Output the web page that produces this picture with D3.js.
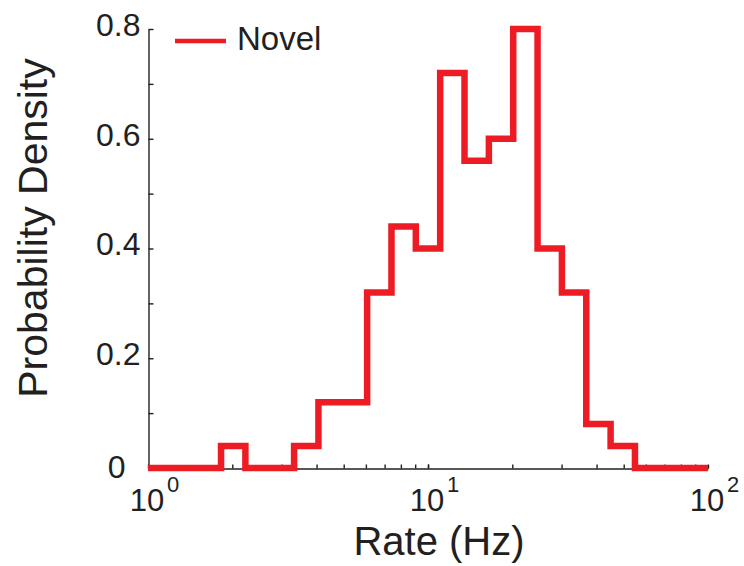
<!DOCTYPE html>
<html>
<head>
<meta charset="utf-8">
<script src="https://cdn.jsdelivr.net/npm/d3@7"></script>
<style>
  body { margin: 0; background: #fff; }
  text { font-family: "Liberation Sans", Arial, sans-serif; fill: #231f20; }
</style>
</head>
<body>
<svg id="chart" width="744" height="566"></svg>
<script>
var width = 744;
var height = 566;

// histogram: 23 log-spaced bins between 10^0 and 10^2
var binCount = 23;
var density = [0, 0, 0, 0.04, 0, 0, 0.04, 0.12, 0.12, 0.32, 0.44, 0.40,
               0.72, 0.56, 0.60, 0.80, 0.40, 0.32, 0.08, 0.04, 0, 0, 0];
var yTicks = [0, 0.1, 0.2, 0.3, 0.4, 0.5, 0.6, 0.7, 0.8];
var yLabels = [0, 0.2, 0.4, 0.6, 0.8];
var xLabels = [1, 10, 100];
var seriesName = "Novel";

var red = "#ed1c24";
var ink = "#231f20";

var x = d3.scaleLog().domain([1, 100]).range([148, 708]);
var y = d3.scaleLinear().domain([0, 0.8]).range([468, 29]);

var svg = d3.select("#chart");

// bin edges in log space
var edges = d3.range(binCount + 1).map(function(k) {
    return Math.pow(10, 2 * k / binCount);
});
var pts = density.map(function(v, i) { return [edges[i], v]; });
pts.push([edges[binCount], 0]);

// axes
var yAxis = d3.axisLeft(y)
    .tickValues(yTicks)
    .tickSize(-5)
    .tickSizeOuter(0)
    .tickPadding(8)
    .tickFormat(function(d) {
        var lab = yLabels.filter(function(v) { return Math.abs(v - d) < 1e-9; });
        return lab.length ? String(+d.toFixed(1)) : "";
    });

var gy = svg.append("g").attr("transform", "translate(148.5,0)").call(yAxis);
gy.selectAll("text")
    .style("font-size", "32px")
    .attr("dy", "0.2em")
    .filter(function(d) { return d === 0; })
    .attr("x", -23)
    .attr("dy", "0.3em");

var minor = [];
[1, 10].forEach(function(dec) {
    for (var m = 1; m <= 10; m++) minor.push(dec * m);
});
var xAxis = d3.axisBottom(x)
    .tickValues(minor)
    .tickSize(-4)
    .tickSizeOuter(0)
    .tickFormat("");
var gx = svg.append("g").attr("transform", "translate(0,468.5)").call(xAxis);

svg.selectAll(".domain").attr("stroke", ink).attr("stroke-width", 1.4);
svg.selectAll(".tick line").attr("stroke", ink).attr("stroke-width", 1.4);

// decade labels 10^n: base centred on the tick, exponent to its upper right
var decades = svg.append("g").selectAll("g")
    .data(xLabels)
    .enter()
    .append("g")
    .attr("transform", function(d) { return "translate(" + (x(d) - 1) + ",0)"; });
decades.append("text")
    .attr("x", 0)
    .attr("y", 511)
    .attr("text-anchor", "middle")
    .style("font-size", "31px")
    .text("10");
decades.append("text")
    .attr("x", 20)
    .attr("y", 492)
    .style("font-size", "22px")
    .text(function(d) { return Math.round(Math.log10(d)); });

// histogram outline
var line = d3.line()
    .x(function(d) { return x(d[0]); })
    .y(function(d) { return y(d[1]); })
    .curve(d3.curveStepAfter);

svg.append("path")
    .datum(pts)
    .attr("d", line)
    .attr("fill", "none")
    .attr("stroke", red)
    .attr("stroke-width", 6.5)
    .attr("stroke-linejoin", "miter");

// legend
svg.append("line")
    .attr("x1", 175).attr("x2", 226)
    .attr("y1", 41).attr("y2", 41)
    .attr("stroke", red).attr("stroke-width", 4.5);
svg.append("text")
    .attr("x", 237).attr("y", 50)
    .style("font-size", "33px")
    .text(seriesName);

// axis titles
svg.append("text")
    .attr("x", 439).attr("y", 555)
    .attr("text-anchor", "middle")
    .style("font-size", "40px")
    .text("Rate (Hz)");
svg.append("text")
    .attr("transform", "translate(47,228) rotate(-90)")
    .attr("text-anchor", "middle")
    .style("font-size", "41px")
    .text("Probability Density");
</script>
</body>
</html>
